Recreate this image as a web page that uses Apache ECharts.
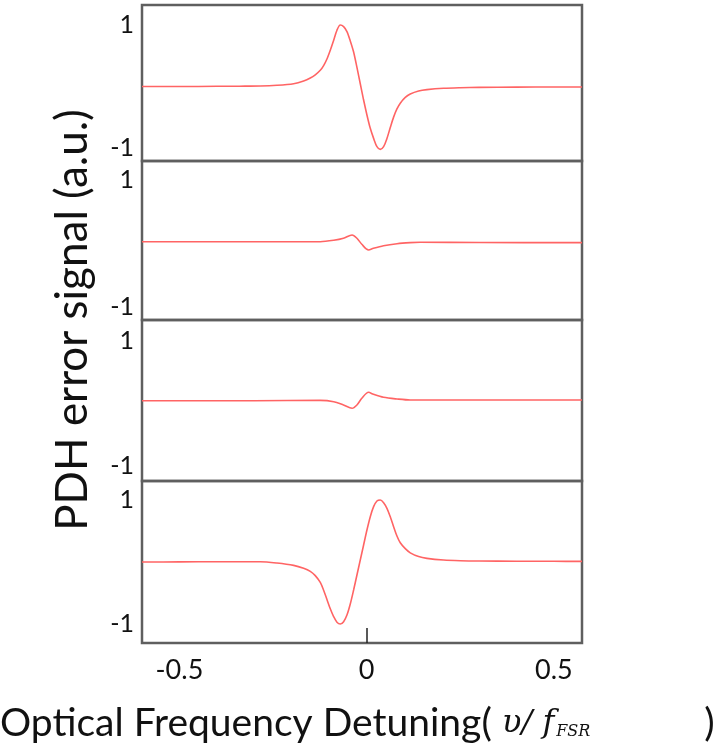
<!DOCTYPE html>
<html>
<head>
<meta charset="utf-8">
<script src="https://cdn.jsdelivr.net/npm/echarts@6/dist/echarts.min.js"></script>
<style>
html,body{margin:0;padding:0;background:#fff;}
#chart{width:718px;height:755px;}
</style>
</head>
<body>
<div id="chart"></div>
<script>
// ---- data ----
const xTickLabels = [-0.5, 0, 0.5];
const yTickLabels = [-1, 1];

// panels 1 and 4 (large dispersive signals)
const xWide = [-0.6, -0.5, -0.4, -0.34, -0.2841, -0.2396, -0.1951, -0.1684, -0.1506, -0.1373, -0.1239, -0.1150, -0.1061, -0.0972, -0.0883, -0.0794, -0.0705, -0.0616, -0.0527, -0.0438, -0.0349, -0.0260, -0.0171, -0.0082, 0.0007, 0.0096, 0.0185, 0.0274, 0.0363, 0.0452, 0.0541, 0.0630, 0.0719, 0.0808, 0.0897, 0.1031, 0.1164, 0.1387, 0.1609, 0.2054, 0.2499, 0.3, 0.4, 0.5, 0.575];
const signal1 = [0, 0, 0.003, 0.005, 0.008, 0.02, 0.046, 0.089, 0.137, 0.19, 0.264, 0.34, 0.447, 0.589, 0.749, 0.915, 1.0, 0.973, 0.892, 0.740, 0.56, 0.31, 0.045, -0.22, -0.463, -0.680, -0.843, -0.978, -1.022, -0.978, -0.845, -0.667, -0.498, -0.365, -0.271, -0.177, -0.121, -0.072, -0.050, -0.028, -0.019, -0.014, -0.01, -0.008, -0.007];
const signal4 = [0, 0.002, 0.004, 0.005, 0.005, -0.016, -0.054, -0.100, -0.150, -0.22, -0.33, -0.455, -0.605, -0.755, -0.88, -0.97, -1.0, -0.962, -0.855, -0.677, -0.452, -0.210, 0.032, 0.274, 0.516, 0.731, 0.892, 0.984, 1.0, 0.957, 0.866, 0.731, 0.570, 0.419, 0.31, 0.215, 0.148, 0.088, 0.059, 0.032, 0.021, 0.016, 0.013, 0.011, 0.01];

// panels 2 and 3 (small signals)
const xNarrow = [-0.6, -0.3, -0.124, -0.088, -0.062, -0.039, -0.026, -0.013, 0.005, 0.018, 0.045, 0.081, 0.116, 0.143, 0.3, 0.575];
const signal2 = [0.028, 0.028, 0.028, 0.050, 0.082, 0.134, 0.082, -0.013, -0.102, -0.076, -0.035, -0.003, 0.013, 0.019, 0.015, 0.013];
const signal3 = [0.045, 0.045, 0.05, 0.029, -0.024, -0.077, -0.024, 0.083, 0.179, 0.147, 0.099, 0.072, 0.056, 0.056, 0.056, 0.056];

// ---- chart ----
const panels = [
  {x: xWide, y: signal1, top: 5, height: 156, min: -1.211, max: 1.325},
  {x: xNarrow, y: signal2, top: 161, height: 159, min: -1.205, max: 1.299},
  {x: xNarrow, y: signal3, top: 320, height: 161, min: -1.24, max: 1.336},
  {x: xWide, y: signal4, top: 481, height: 162, min: -1.306, max: 1.306}
];
const FONT = 'Lato';
const LINE = '#ff6464';
const BORDER = '#5f5f5f';

const grid = [], xAxis = [], yAxis = [], series = [];
panels.forEach((p, i) => {
  grid.push({left: 142, width: 440, top: p.top, height: p.height, show: true,
    borderColor: BORDER, borderWidth: 2.5, backgroundColor: 'transparent'});
  const last = i === panels.length - 1;
  xAxis.push({
    type: 'value', gridIndex: i, min: -0.6, max: 0.575,
    axisLine: {show: false, onZero: false},
    splitLine: {show: false},
    axisTick: last ? {show: true, inside: true, length: 15, customValues: [0],
      lineStyle: {color: '#222', width: 1.5}} : {show: false},
    axisLabel: last ? {show: true, customValues: xTickLabels, margin: 14,
      fontFamily: FONT, fontSize: 27, color: '#111',
      formatter: v => String(v)} : {show: false}
  });
  yAxis.push({
    type: 'value', gridIndex: i, min: p.min, max: p.max,
    axisLine: {show: false, onZero: false}, axisTick: {show: false}, splitLine: {show: false},
    axisLabel: {show: true, customValues: yTickLabels, margin: 8,
      fontFamily: FONT, fontSize: 25, color: '#111',
      formatter: v => String(v)}
  });
  series.push({
    type: 'line', xAxisIndex: i, yAxisIndex: i, showSymbol: false, smooth: 0.3,
    lineStyle: {color: LINE, width: 1.6}, silent: true,
    data: p.x.map((xv, k) => [xv, p.y[k]])
  });
});

const chart = echarts.init(document.getElementById('chart'), null, {renderer: 'canvas'});
chart.setOption({
  animation: false,
  backgroundColor: '#fff',
  grid, xAxis, yAxis, series,
  graphic: [
    {type: 'text', left: 0, top: 704, style: {
      text: '{a|Optical Frequency Detuning(}{m| \u03C5/ f}{s|FSR}{b|)}',
      rich: {
        a: {fontFamily: FONT, fontSize: 39, fill: '#111'},
        b: {fontFamily: FONT, fontSize: 39, fill: '#111', padding: [0, 0, 0, 114]},
        m: {fontFamily: 'DejaVu Serif', fontStyle: 'italic', fontSize: 32, fill: '#111'},
        s: {fontFamily: 'DejaVu Serif', fontStyle: 'italic', fontSize: 16, fill: '#111', padding: [16, 0, 0, 2]}
      }
    }},
    {type: 'text', x: 73, y: 320, rotation: Math.PI / 2, style: {
      text: 'PDH error signal (a.u.)', fontFamily: FONT, fontSize: 44, fill: '#111',
      align: 'center', verticalAlign: 'middle'
    }}
  ]
});
</script>
</body>
</html>
